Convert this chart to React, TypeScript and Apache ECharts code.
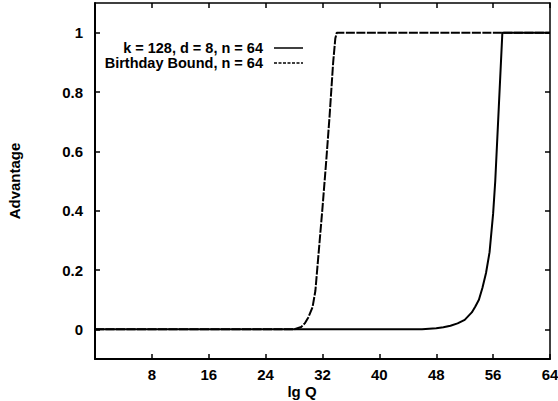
import React, { useEffect, useRef } from "react";
import * as echarts from "echarts";

// k = 128, d = 8, n = 64 (solid curve)
const kLgQ = [0, 46, 47, 48, 49, 50, 51, 52, 53, 53.5, 54, 54.5, 55, 55.5, 56, 56.3, 56.8, 57.3, 64];
const kAdv = [0, 0, 0.002, 0.004, 0.007, 0.012, 0.02, 0.032, 0.057, 0.077, 0.1, 0.14, 0.19, 0.26, 0.39, 0.5, 0.75, 1, 1];

// Birthday bound, n = 64 (dashed curve)
const bLgQ = [0, 28, 29, 29.5, 30, 30.6, 31, 31.5, 32, 32.5, 33, 33.5, 33.8, 34, 64];
const bAdv = [0, 0, 0.008, 0.02, 0.04, 0.075, 0.13, 0.27, 0.41, 0.56, 0.72, 0.9, 0.98, 1, 1];

const xTicks = [8, 16, 24, 32, 40, 48, 56, 64];
const yTicks = [0, 0.2, 0.4, 0.6, 0.8, 1];

const seriesNames = ["k = 128, d = 8, n = 64", "Birthday Bound, n = 64"];
const xTitle = "lg Q";
const yTitle = "Advantage";

const FONT = "'Liberation Sans', Arial, Helvetica, sans-serif";

export default function App() {
  const ref = useRef<HTMLDivElement>(null);
  useEffect(() => {
    if (!ref.current) return;
    const chart = echarts.init(ref.current, null, { renderer: "svg" });
    const labelStyle = {
      color: "#000",
      fontSize: 15,
      fontWeight: "bold" as const,
      fontFamily: FONT,
    };
    const xBase = {
      type: "value" as const,
      min: 0,
      max: 64,
      interval: 8,
      splitLine: { show: false },
    };
    const yBase = {
      type: "value" as const,
      min: -0.1,
      max: 1.1,
      splitLine: { show: false },
    };
    chart.setOption({
      animation: false,
      backgroundColor: "#fff",
      grid: { left: 95, right: 8, top: 3, bottom: 42, containLabel: false, outerBoundsMode: "none" },
      xAxis: [
        {
          ...xBase,
          position: "bottom",
          axisLine: { onZero: false, lineStyle: { color: "#000", width: 2 } },
          axisTick: { inside: true, length: 5, lineStyle: { color: "#000", width: 1.5 } },
          axisLabel: {
            ...labelStyle,
            margin: 8,
            formatter: (v: number) => (xTicks.includes(v) ? String(v) : ""),
          },
        },
        {
          ...xBase,
          position: "top",
          axisLine: { onZero: false, lineStyle: { color: "#000", width: 1.5 } },
          axisTick: { inside: true, length: 5, lineStyle: { color: "#000", width: 1.5 } },
          axisLabel: { show: false },
        },
      ],
      yAxis: [
        {
          ...yBase,
          position: "left",
          axisLine: { onZero: false, lineStyle: { color: "#000", width: 2 } },
          axisTick: {
            inside: true,
            length: 5,
            customValues: yTicks,
            lineStyle: { color: "#000", width: 1.5 },
          },
          axisLabel: {
            ...labelStyle,
            margin: 12,
            customValues: yTicks,
            formatter: (v: number) => String(Math.round(v * 10) / 10),
          },
          name: yTitle,
          nameLocation: "middle",
          nameGap: 73,
          nameRotate: 90,
          nameTextStyle: labelStyle,
        },
        {
          ...yBase,
          position: "right",
          axisLine: { onZero: false, lineStyle: { color: "#000", width: 1.5 } },
          axisTick: {
            inside: true,
            length: 5,
            customValues: yTicks,
            lineStyle: { color: "#000", width: 1.5 },
          },
          axisLabel: { show: false },
        },
      ],
      series: [
        {
          name: seriesNames[0],
          type: "line",
          xAxisIndex: 0,
          yAxisIndex: 0,
          showSymbol: false,
          smooth: false,
          lineStyle: { color: "#000", width: 2, type: "solid" },
          data: kLgQ.map((x, i) => [x, kAdv[i]]),
        },
        {
          name: seriesNames[1],
          type: "line",
          xAxisIndex: 0,
          yAxisIndex: 0,
          showSymbol: false,
          smooth: false,
          lineStyle: { color: "#000", width: 2, type: [9, 1.5] },
          data: bLgQ.map((x, i) => [x, bAdv[i]]),
        },
      ],
      graphic: [
        {
          type: "text",
          x: 302,
          y: 391,
          style: {
            text: xTitle,
            align: "center",
            verticalAlign: "middle",
            fill: "#000",
            font: `bold 15px ${FONT}`,
          },
        },
        {
          type: "text",
          x: 263,
          y: 48,
          style: {
            text: seriesNames[0],
            align: "right",
            verticalAlign: "middle",
            fill: "#000",
            font: `bold 14.5px ${FONT}`,
            lineHeight: 13,
          },
        },
        {
          type: "text",
          x: 263,
          y: 63,
          style: {
            text: seriesNames[1],
            align: "right",
            verticalAlign: "middle",
            fill: "#000",
            font: `bold 14.5px ${FONT}`,
            lineHeight: 13,
          },
        },
        {
          type: "line",
          shape: { x1: 274, y1: 48, x2: 303, y2: 48 },
          style: { stroke: "#000", lineWidth: 1.5 },
        },
        {
          type: "line",
          shape: { x1: 274, y1: 63, x2: 303, y2: 63 },
          style: { stroke: "#000", lineWidth: 1.5, lineDash: [3, 1.5] },
        },
      ],
    });
    return () => chart.dispose();
  }, []);
  return (
    <div
      ref={ref}
      style={{ position: "fixed", left: 0, top: 0, width: 558, height: 401 }}
    />
  );
}
